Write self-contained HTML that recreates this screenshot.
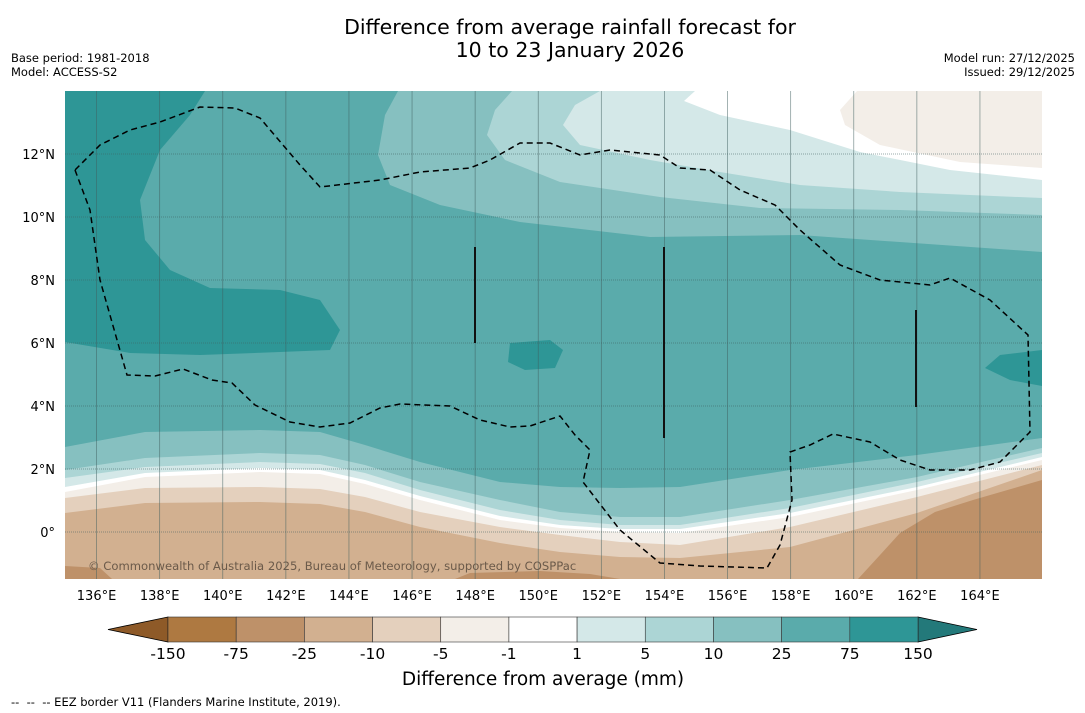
<!DOCTYPE html>
<html><head><meta charset="utf-8"><style>
body{margin:0;background:#fff;width:1085px;height:713px;overflow:hidden;font-family:"DejaVu Sans","Liberation Sans",sans-serif}
svg{position:absolute;left:0;top:0}
</style></head><body>
<svg width="1085" height="713" viewBox="0 0 1085 713">
<text x="570" y="34" text-anchor="middle" font-size="20.5">Difference from average rainfall forecast for</text>
<text x="570" y="57" text-anchor="middle" font-size="20.5">10 to 23 January 2026</text>
<text x="11" y="62" font-size="11.5">Base period: 1981-2018</text>
<text x="11" y="76" font-size="11.5">Model: ACCESS-S2</text>
<text x="1075" y="62" font-size="11.5" text-anchor="end">Model run: 27/12/2025</text>
<text x="1075" y="76" font-size="11.5" text-anchor="end">Issued: 29/12/2025</text>
<defs><clipPath id="mc"><rect x="65" y="91" width="977" height="488"/></clipPath></defs>
<g id="map" clip-path="url(#mc)"></g>
<g id="cbar"></g>
<text x="543" y="685" text-anchor="middle" font-size="18.5">Difference from average (mm)</text>
<text x="11" y="706" font-size="11.5" style="white-space:pre" xml:space="preserve">--  --  -- EEZ border V11 (Flanders Marine Institute, 2019).</text>
</svg>
<script>
const NS="http://www.w3.org/2000/svg";
const levels=["-150","-75","-25","-10","-5","-1","1","5","10","25","75","150"];
const colors=["#ae7941","#be9169","#d2b090","#e4d0bd","#f3eee8","#ffffff","#d4e8e8","#acd5d5","#86c0c0","#5aabab","#2e9696"];
const lowColor="#8e5a28", highColor="#23797a";
const lonTicks=[136,138,140,142,144,146,148,150,152,154,156,158,160,162,164];
const latTicks=[0,2,4,6,8,10,12];
const X=lon=>65+(lon-135)*31.55, Y=lat=>91+(14-lat)*31.5;
// southern band boundaries (pixel knots across map)
const knotX=[65,145,260,320,365,420,500,560,620,680,790,917,1042];
const bA=[447,432,430,432,445,462,482,487,488,487,470,455,438];
const bB=[470,458,453,455,465,482,500,512,517,517,500,477,448];
const bC=[478,467,462,464,473,490,510,520,525,525,508,482,453];
const bD=[487,473,468,470,480,496,516,525,529,529,513,487,457];
const bE=[492,477,472,474,484,500,520,528,532,533,517,490,460];
const bF=[498,488,487,489,497,512,527,535,542,545,527,497,465];
const bG=[513,503,502,504,512,527,543,552,557,558,547,513,470];
const map=document.getElementById('map');
function poly(pts,fill,name){const p=document.createElementNS(NS,'polygon');p.setAttribute('points',pts.map(q=>q.join(',')).join(' '));p.setAttribute('fill',fill);


map.appendChild(p);return p;}
function el(tag,attrs,parent,name){const e=document.createElementNS(NS,tag);for(const k in attrs)e.setAttribute(k,attrs[k]);


parent.appendChild(e);return e;}
poly([[65,91],[1042,91],[1042,579],[65,579]],colors[9],'band-25-75');
poly([[398,91],[1042,91],[1042,252],[800,235],[650,237],[520,222],[440,205],[390,185],[378,155],[385,115]],colors[8],'band-10-25-north');
poly([[512,91],[1042,91],[1042,215],[900,210],[760,208],[660,197],[560,182],[505,160],[487,135],[495,110]],colors[7],'band-5-10-north');
poly([[600,91],[1042,91],[1042,198],[900,192],[800,185],[720,172],[650,160],[580,145],[563,125],[575,105]],colors[6],'band-1-5-north');
poly([[695,91],[1042,91],[1042,180],[950,170],[860,152],[790,130],[720,115],[684,101]],colors[5],'band-neutral-north');
poly([[857,91],[1042,91],[1042,168],[960,162],[880,145],[845,125],[840,110]],colors[4],'band-dry-north');
poly([[65,91],[205,91],[190,115],[160,150],[140,200],[145,240],[170,270],[210,288],[280,290],[320,300],[340,330],[330,350],[280,352],[200,355],[130,353],[65,342]],colors[10],'wet-core-west');
poly([[985,368],[1000,355],[1042,350],[1042,386],[1010,380]],colors[10],'wet-core-east');
poly([[510,343],[550,340],[563,350],[555,368],[525,370],[508,362]],colors[10],'wet-core-central');
const bands=[[bA,colors[8]],[bB,colors[7]],[bC,colors[6]],[bD,colors[5]],[bE,colors[4]],[bF,colors[3]],[bG,colors[2]]];
bands.forEach(([b,c],i)=>{const pts=knotX.map((x,j)=>[x,b[j]]);pts.push([1042,579],[65,579]);poly(pts,c,'band-south-'+i);});
poly([[858,579],[880,555],[900,533],[935,512],[973,500],[1042,480],[1042,579]],colors[1],'dry-core-southeast');
poly([[65,566],[100,568],[112,579],[65,579]],colors[1],'dry-core-southwest');
poly([[455,579],[470,573],[540,571],[590,574],[620,579]],colors[1],'dry-core-south');
const svg=document.querySelector('svg');
lonTicks.forEach(l=>{el('line',{x1:X(l),x2:X(l),y1:91,y2:579,stroke:'#3f5f5f','stroke-width':0.8,'stroke-opacity':0.6},map,'gridline-lon');
el('text',{x:X(l),y:600,'text-anchor':'middle','font-size':13,fill:'#000'},svg,'lon-tick-label').textContent=l+'°E';});
latTicks.forEach(l=>{el('line',{x1:65,x2:1042,y1:Y(l),y2:Y(l),stroke:'#3f5f5f','stroke-width':0.8,'stroke-dasharray':'1,1','stroke-opacity':0.7},map,'gridline-lat');
el('text',{x:55,y:Y(l)+5,'text-anchor':'end','font-size':13,fill:'#000'},svg,'lat-tick-label').textContent=l===0?'0°':l+'°N';});
const eez=[[75,170],[90,210],[100,280],[127,375],[155,376],[183,369],[212,380],[232,383],[255,405],[290,422],[320,427],[350,423],[380,408],[400,404],[450,406],[480,420],[510,427],[530,426],[560,416],[575,435],[590,450],[583,482],[620,530],[660,563],[700,566],[767,568],[780,545],[792,500],[790,452],[810,445],[833,434],[870,442],[900,460],[930,470],[970,470],[1000,462],[1030,432],[1028,335],[990,300],[950,278],[930,285],[880,280],[840,265],[800,230],[775,205],[740,190],[710,170],[680,168],[660,155],[610,150],[580,155],[550,143],[520,143],[490,160],[470,168],[420,172],[380,180],[320,187],[300,165],[260,118],[235,108],[200,107],[160,122],[130,130],[100,145],[75,170]];
el('polyline',{points:eez.map(p=>p.join(',')).join(' '),fill:'none',stroke:'#000','stroke-width':1.5,'stroke-dasharray':'6,4'},map,'eez-border');
[[475,247,343],[664,247,438],[916,310,407]].forEach(v=>el('line',{x1:v[0],x2:v[0],y1:v[1],y2:v[2],stroke:'#111','stroke-width':2},map,'eez-segment'));
el('text',{x:88,y:570,'font-size':11.6,fill:'#6b5a4a'},map,'copyright-note').textContent='© Commonwealth of Australia 2025, Bureau of Meteorology, supported by COSPPac';
const cb=document.getElementById('cbar');const cx0=168,cx1=918,cy=617,ch=25,w=(cx1-cx0)/colors.length;
el('polygon',{points:`${cx0},${cy} 108,${cy+ch/2} ${cx0},${cy+ch}`,fill:lowColor,stroke:'#000','stroke-width':0.8},cb,'colorbar-low-extend');
el('polygon',{points:`${cx1},${cy} 977,${cy+ch/2} ${cx1},${cy+ch}`,fill:highColor,stroke:'#000','stroke-width':0.8},cb,'colorbar-high-extend');
colors.forEach((c,i)=>el('rect',{x:cx0+i*w,y:cy,width:w,height:ch,fill:c,stroke:'#333','stroke-width':0.6},cb,'colorbar-swatch'));
levels.forEach((l,i)=>{el('text',{x:cx0+i*w,y:659,'text-anchor':'middle','font-size':15.5},cb,'colorbar-tick-label').textContent=l;});
</script>
</body></html>
